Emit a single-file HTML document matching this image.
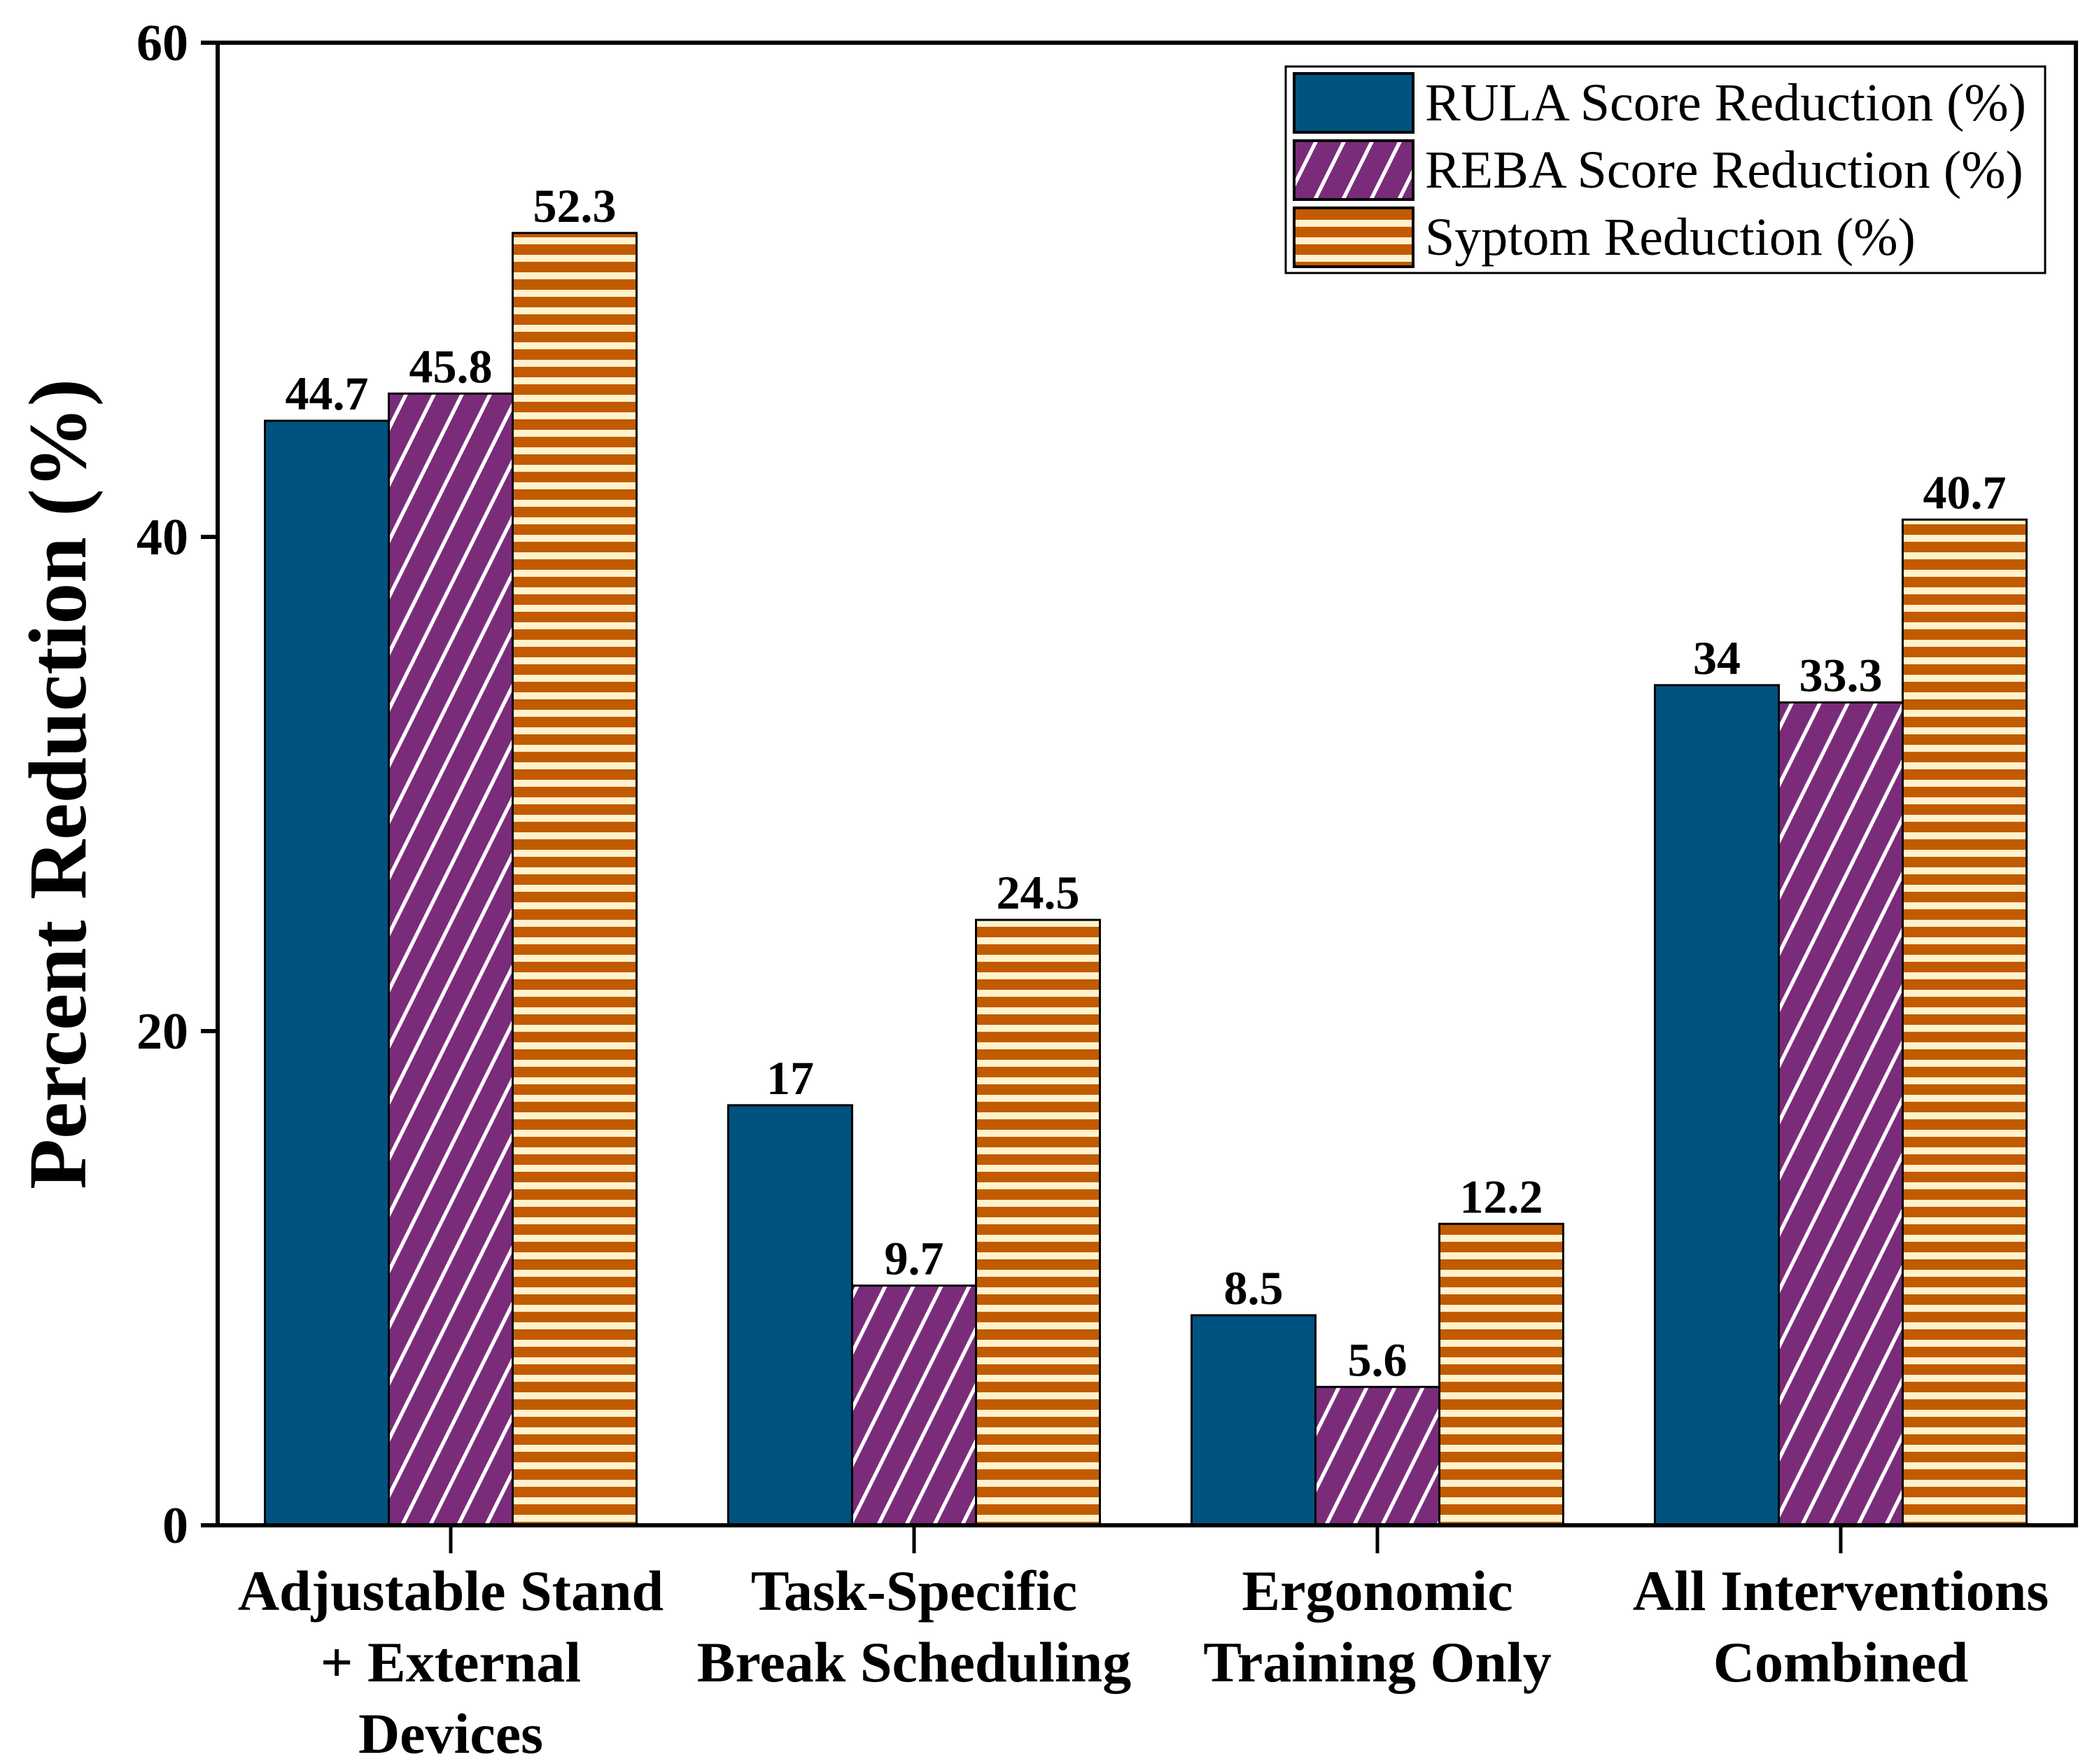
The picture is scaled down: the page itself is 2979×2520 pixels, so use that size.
<!DOCTYPE html>
<html><head><meta charset="utf-8"><style>
html,body{margin:0;padding:0;background:#fff;}
svg{display:block;}
text{font-family:"Liberation Serif",serif;}
</style></head><body>
<svg id="chart" width="2979" height="2520" viewBox="0 0 2979 2520" xmlns="http://www.w3.org/2000/svg">
<defs>
<pattern id="diag" patternUnits="userSpaceOnUse" width="40" height="80" patternTransform="skewX(-26.5)">
<rect width="40" height="80" fill="#7A2C7A"/>
<rect x="18" width="6" height="80" fill="#fff"/>
</pattern>
<pattern id="horiz" patternUnits="userSpaceOnUse" width="20" height="25">
<rect width="20" height="25" fill="#C25B00"/>
<rect y="14" width="20" height="10" fill="#FFF2CC"/>
</pattern>
</defs>
<g id="bars"></g>
<g id="labels"></g>
<g id="axes"></g>
</svg>
<script>
const categories = [["Adjustable Stand","+ External","Devices"],["Task-Specific","Break Scheduling"],["Ergonomic","Training Only"],["All Interventions","Combined"]];
const rulaValues = [44.7, 17, 8.5, 34];
const rebaValues = [45.8, 9.7, 5.6, 33.3];
const symptomValues = [52.3, 24.5, 12.2, 40.7];
const yTicks = [0, 20, 40, 60];
const seriesNames = ["RULA Score Reduction (%)","REBA Score Reduction (%)","Syptom Reduction (%)"];

const NS="http://www.w3.org/2000/svg";
const L=311,R=2966,T=61,B=2179,yMax=60;
const fills=["#005380","url(#diag)","url(#horiz)"];
const series=[rulaValues,rebaValues,symptomValues];
const barW=177;
function y(v){return B-(v/yMax)*(B-T);}
function xc(i){return 644+i*662;}
function el(tag,attrs,parent){const e=document.createElementNS(NS,tag);for(const k in attrs)e.setAttribute(k,attrs[k]);parent.appendChild(e);return e;}
const gb=document.getElementById('bars'),gl=document.getElementById('labels'),ga=document.getElementById('axes');
const keys=['rula','reba','symptom'];
series.forEach((vals,s)=>{
  vals.forEach((v,i)=>{
    const x=xc(i)+(s-1.5)*barW;
    const r=el('rect',{x:x,y:y(v),width:barW,height:B-y(v),fill:fills[s],stroke:'#000','stroke-width':3},gb);
    
    
    const t=el('text',{x:x+barW/2,y:y(v)-16,'text-anchor':'middle','font-size':68,'font-weight':'bold'},gl);
    t.textContent=String(v);
    
    
  });
});
const fr=el('rect',{x:L,y:T,width:R-L,height:B-T,fill:'none',stroke:'#000','stroke-width':6},ga);


yTicks.forEach(v=>{
  const ln=el('line',{x1:L-24,x2:L,y1:y(v),y2:y(v),stroke:'#000','stroke-width':6},ga);
  
  
  const t=el('text',{x:L-42,y:y(v)+25,'text-anchor':'end','font-size':74,'font-weight':'bold'},ga);
  t.textContent=String(v);
  
  
});
categories.forEach((lines,i)=>{
  const ln=el('line',{x1:xc(i),x2:xc(i),y1:B,y2:B+40,stroke:'#000','stroke-width':5},ga);
  
  
  const t=el('text',{x:xc(i),'text-anchor':'middle','font-size':82,'font-weight':'bold'},ga);
  
  
  lines.forEach((s,k)=>{const sp=el('tspan',{x:xc(i),y:2300+k*102},t);sp.textContent=s;});
});
const yt=el('text',{x:0,y:0,transform:'translate(122,1120) rotate(-90)','text-anchor':'middle','font-size':118,'font-weight':'bold'},ga);
yt.textContent='Percent Reduction (%)';


const lg=el('g',{},ga);


el('rect',{x:1837,y:95,width:1085,height:295,fill:'#fff',stroke:'#000','stroke-width':3},lg);
seriesNames.forEach((n,s)=>{
  const cy=147+s*96;
  const sw=el('rect',{x:1849,y:cy-42,width:170,height:84,fill:fills[s],stroke:'#000','stroke-width':4},lg);
  
  
  const t=el('text',{x:2036,y:cy+25,'font-size':76},lg);
  t.textContent=n;
  
  
});
</script>
</body></html>
